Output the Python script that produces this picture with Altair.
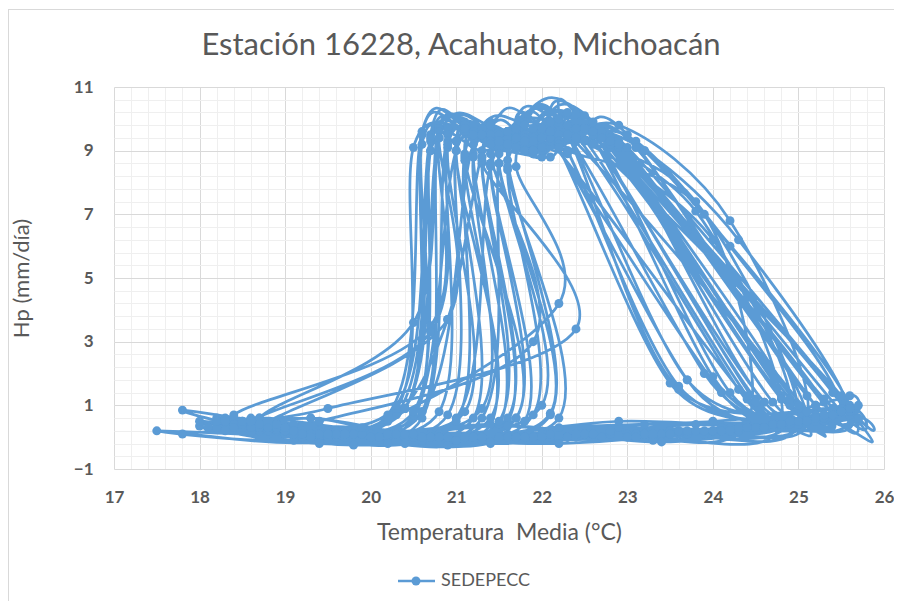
import altair as alt
import pandas as pd

series_name = "SEDEPECC"
chart_title = "Estación 16228, Acahuato, Michoacán"
x_title = "Temperatura\u00a0 Media (°C)"
y_title = "Hp (mm/día)"

x_ticks = [17, 18, 19, 20, 21, 22, 23, 24, 25, 26]
y_ticks = [-1, 1, 3, 5, 7, 9, 11]

# Monthly mean temperature (°C), one row per year (Jan..Dec)
temp_media = [
    18.2, 19.8, 21.2, 23.0, 24.8, 25.3, 22.6, 21.9, 21.6, 21.0, 20.5, 19.0,
    18.7, 20.1, 21.8, 23.5, 25.1, 24.2, 22.9, 22.0, 21.4, 20.9, 20.2, 18.9,
    17.8, 19.5, 21.0, 22.8, 24.6, 25.6, 23.2, 22.3, 21.8, 21.2, 20.6, 18.6,
    19.0, 20.4, 22.0, 23.8, 25.3, 25.7, 22.7, 22.1, 21.5, 21.1, 21.4, 19.3,
    18.4, 19.9, 21.3, 23.3, 24.8, 24.0, 22.4, 21.6, 21.3, 20.8, 20.5, 18.7,
    19.4, 20.8, 22.4, 24.2, 25.5, 24.8, 22.8, 22.1, 21.9, 21.4, 21.0, 19.1,
    17.5, 19.2, 20.9, 22.6, 24.4, 23.9, 22.3, 21.5, 20.9, 20.7, 20.3, 18.1,
    18.9, 20.3, 21.9, 23.7, 25.2, 25.4, 22.5, 22.0, 21.5, 21.1, 21.7, 18.8,
    18.5, 20.0, 21.6, 23.4, 25.0, 23.6, 22.2, 21.8, 21.3, 20.7, 20.4, 18.6,
    19.2, 20.6, 22.2, 24.0, 25.4, 24.6, 22.4, 22.2, 21.7, 21.3, 22.4, 19.5,
    18.0, 19.6, 21.1, 23.1, 24.7, 25.0, 22.6, 21.9, 21.5, 20.9, 20.6, 18.9,
    19.6, 21.0, 22.7, 24.4, 25.6, 24.3, 23.2, 22.4, 22.0, 21.6, 21.9, 19.7,
    18.3, 19.7, 21.4, 23.2, 24.9, 24.4, 22.0, 21.4, 21.0, 20.6, 20.4, 18.4,
    19.1, 20.5, 22.1, 23.9, 25.3, 25.5, 22.6, 22.1, 21.6, 21.2, 21.5, 19.2,
    18.6, 20.2, 21.7, 23.5, 25.1, 23.7, 22.3, 21.7, 21.3, 20.8, 20.9, 18.7,
    19.5, 20.9, 22.5, 24.3, 25.6, 25.2, 22.9, 22.3, 21.9, 21.5, 22.0, 19.6,
    18.1, 19.4, 21.0, 22.9, 24.5, 23.7, 22.1, 21.6, 21.2, 20.5, 20.3, 18.2,
    18.8, 20.2, 21.9, 23.6, 25.2, 24.5, 22.5, 21.9, 21.5, 21.0, 21.2, 19.0,
    19.3, 20.7, 22.3, 24.1, 25.5, 23.6, 22.3, 22.0, 21.7, 21.4, 21.9, 19.4,
    18.4, 19.9, 21.5, 23.3, 24.9, 25.1, 22.2, 21.6, 21.1, 20.7, 20.5, 18.6,
    19.0, 20.4, 22.0, 23.8, 25.4, 24.7, 22.8, 22.1, 21.8, 21.3, 21.6, 19.3,
    18.7, 20.1, 21.6, 23.4, 25.0, 23.8, 22.4, 21.8, 21.4, 20.9, 20.8, 18.9,
    19.7, 21.1, 22.8, 24.5, 25.7, 25.6, 23.0, 22.5, 22.0, 21.7, 22.2, 19.8,
    18.3, 19.8, 21.3, 23.2, 24.8, 24.1, 22.0, 21.6, 21.1, 20.6, 20.2, 17.8,
    18.9, 20.3, 21.8, 23.6, 25.2, 24.9, 22.7, 22.2, 21.7, 21.2, 21.3, 19.1,
    19.4, 20.6, 22.1, 24.0, 25.5, 24.2, 23.1, 22.4, 21.9, 21.4, 21.8, 19.5,
    18.2, 19.6, 21.2, 23.0, 24.6, 23.9, 22.2, 21.7, 21.2, 20.8, 20.7, 18.4,
    19.1, 20.5, 22.2, 24.1, 25.6, 25.3, 22.8, 22.2, 21.8, 21.3, 21.6, 19.2,
    18.6, 20.0, 21.5, 23.3, 24.9, 24.4, 22.4, 21.8, 21.4, 20.9, 21.1, 18.7,
    19.3, 20.8, 22.5, 24.3, 25.6, 24.6, 22.9, 22.3, 21.9, 21.5, 22.1, 19.6,
    18.5, 19.9, 21.4, 23.2, 24.7, 23.5, 22.1, 21.7, 21.2, 20.7, 20.4, 18.5,
    19.0, 20.4, 22.0, 23.7, 25.3, 25.0, 22.6, 22.0, 21.6, 21.0, 21.4, 18.8,
    18.4, 19.7, 21.3, 23.1, 24.9, 24.0, 22.5, 21.9, 21.4, 20.8, 20.6, 18.9,
    19.2, 20.7, 22.3, 24.0, 25.5, 25.4, 22.9, 22.3, 21.8, 21.5, 21.3, 19.4,
    18.0, 19.5, 21.1, 22.9, 24.7, 24.3, 22.3, 21.5, 21.1, 20.7, 20.3, 18.3,
    19.5, 20.9, 22.6, 24.4, 25.7, 25.1, 23.0, 22.4, 21.9, 21.6, 22.1, 19.7,
    18.6, 20.1, 21.7, 23.5, 25.0, 23.7, 22.2, 21.7, 21.3, 20.9, 20.7, 18.6,
    19.0, 20.5, 22.1, 23.9, 25.4, 24.8, 22.7, 22.1, 21.6, 21.1, 21.0, 19.0,
    18.7, 20.0, 21.6, 23.4, 25.1, 24.5, 22.5, 21.8, 21.4, 20.8, 20.4, 18.5,
    19.4, 20.8, 22.4, 24.2, 25.6, 25.5, 22.9, 22.3, 21.9, 21.4, 21.7, 19.3,
    18.2, 19.6, 21.2, 23.1, 24.8, 23.8, 22.1, 21.6, 21.1, 20.6, 20.5, 18.3,
    19.1, 20.6, 22.3, 24.1, 25.5, 24.9, 22.8, 22.2, 21.7, 21.3, 21.5, 19.1,
    18.8, 20.2, 21.8, 23.6, 25.2, 24.2, 22.6, 22.0, 21.5, 21.0, 20.9, 18.9,
    19.3, 20.7, 22.5, 24.3, 25.6, 25.2, 23.1, 22.4, 22.0, 21.6, 22.2, 19.5,
]

# Hp (mm/día), matching rows
hp = [
    0.30, 0.10, 0.00, 0.10, 0.40, 1.10, 9.60, 9.20, 9.40, 9.00, 0.60, 0.30,
    0.20, 0.00, 0.10, 0.20, 0.60, 6.80, 9.80, 9.00, 9.70, 3.70, 0.50, 0.20,
    0.85, 0.20, -0.10, 0.10, 0.30, 1.00, 9.00, 9.50, 9.90, 9.20, 0.80, 0.60,
    0.10, -0.20, 0.05, 0.40, 0.50, 0.50, 9.40, 8.80, 9.00, 8.70, 0.40, 0.60,
    0.40, 0.10, -0.10, 0.00, 0.30, 1.90, 10.20, 9.60, 9.50, 9.70, 3.60, 0.60,
    0.00, 0.10, 0.00, 0.30, 0.80, 1.30, 9.10, 9.30, 8.90, 8.50, 0.60, -0.10,
    0.20, 0.00, -0.25, 0.10, 0.40, 7.00, 9.00, 9.60, 9.70, 9.00, 0.70, 0.30,
    0.30, 0.10, 0.00, 0.10, 0.70, 1.40, 10.10, 9.40, 9.20, 8.80, 0.60, 0.10,
    0.50, 0.00, 0.10, 0.10, 0.40, 1.60, 9.50, 9.20, 9.00, 9.00, 0.90, 0.40,
    0.10, -0.15, 0.30, 0.50, 0.90, 1.10, 10.15, 9.30, 9.10, 8.60, 3.40, 0.90,
    0.35, 0.10, 0.00, 0.00, 0.30, 0.90, 9.90, 9.50, 9.40, 9.50, 0.60, 0.25,
    0.00, -0.10, 0.00, 0.30, 0.70, 6.20, 9.00, 9.70, 8.80, 8.40, 0.70, 0.00,
    0.50, 0.20, -0.20, 0.10, 0.50, 1.20, 9.60, 9.90, 9.30, 9.20, 0.90, 0.50,
    0.20, 0.00, 0.10, 0.10, 0.60, 1.30, 9.20, 9.50, 9.60, 8.90, 0.40, 0.15,
    0.15, 0.00, 0.00, 0.20, 0.50, 6.50, 10.20, 9.10, 9.70, 9.70, 3.70, 0.30,
    0.10, 0.00, 0.10, 0.30, 0.80, 1.00, 9.30, 8.90, 9.20, 8.60, 1.00, 0.20,
    0.30, -0.20, -0.10, 0.30, 0.30, 1.80, 9.40, 9.30, 9.60, 9.10, 0.90, 0.30,
    0.20, 0.10, 0.00, 0.10, 0.70, 1.20, 9.70, 9.40, 9.10, 9.30, 0.60, 0.30,
    0.00, 0.10, 0.00, 0.20, 0.90, 1.50, 9.50, 9.00, 9.40, 8.90, 3.00, 0.50,
    0.40, 0.10, 0.40, -0.10, 0.40, 0.80, 9.80, 9.60, 9.90, 9.50, 0.70, 0.50,
    0.10, 0.00, 0.10, 0.20, 0.60, 1.10, 9.20, 9.60, 9.00, 8.70, 0.50, 0.60,
    0.30, 0.00, 0.00, 0.10, 0.50, 7.40, 9.40, 9.80, 9.50, 9.30, 0.80, 0.30,
    0.10, 0.00, 0.20, 0.30, 0.60, 0.90, 9.10, 9.30, 9.60, 8.50, 4.20, 0.10,
    0.20, -0.25, 0.00, 0.40, 0.40, 1.40, 9.70, 9.40, 9.80, 9.60, 0.70, 0.10,
    0.30, 0.10, 0.00, 0.20, 0.50, 1.00, 9.60, 9.20, 9.10, 8.80, 0.90, 0.40,
    0.10, -0.10, 0.00, 0.20, 0.80, 6.00, 9.30, 9.50, 9.30, 8.60, 0.50, 0.00,
    0.60, 0.10, 0.00, 0.00, 0.30, 2.00, 9.90, 9.60, 9.40, 9.40, 3.50, 0.70,
    0.10, 0.00, -0.20, 0.30, 1.30, 1.20, 9.40, 9.10, 9.00, 8.80, 0.60, 0.20,
    0.40, 0.10, 0.00, 0.10, 0.60, 1.30, 9.70, 9.50, 9.30, 9.10, 0.80, 0.60,
    0.00, 0.00, 0.10, 0.20, 0.90, 1.10, 9.10, 9.40, 9.00, 8.60, 0.75, 0.20,
    0.30, 0.30, -0.15, 0.10, 0.40, 1.70, 9.60, 9.70, 9.50, 9.30, 0.90, 0.40,
    0.20, 0.10, 0.00, 0.20, 0.70, 1.00, 9.50, 9.20, 9.10, 9.00, 0.60, 0.30,
    0.30, 0.10, 0.00, 0.10, 0.50, 6.20, 9.30, 9.70, 9.20, 9.60, 0.80, 0.40,
    0.10, 0.00, 0.00, 0.20, 0.80, 0.70, 9.20, 9.00, 9.40, 8.90, 0.60, 0.20,
    0.50, -0.10, 0.00, 0.50, 0.40, 1.50, 9.80, 9.50, 9.60, 9.40, 1.00, 0.60,
    0.00, 0.00, 0.10, 0.30, 1.00, 1.30, 9.50, 9.30, 8.90, 8.70, 0.70, 0.10,
    0.30, 0.00, 0.00, 0.10, 0.50, 1.80, 10.00, 9.40, 9.50, 9.20, 3.30, 0.50,
    0.20, 0.10, 0.10, 0.20, 0.70, 1.20, 9.40, 9.60, 9.20, 8.90, 0.50, 0.30,
    0.40, 0.00, 0.35, -0.15, 0.50, 1.10, 9.70, 9.30, 9.80, 9.40, 0.90, 0.50,
    0.10, 0.00, 0.10, 0.20, 0.90, 0.80, 9.20, 9.50, 9.00, 8.60, 0.60, 0.10,
    0.50, 0.10, 0.00, 0.00, 0.40, 7.10, 9.90, 9.60, 9.70, 9.50, 0.80, 0.50,
    0.10, 0.00, 0.00, 0.20, 0.80, 1.20, 9.30, 9.10, 9.40, 8.80, 0.50, 0.20,
    0.30, -0.20, 0.00, 0.20, 0.60, 1.40, 9.60, 9.40, 9.30, 9.30, 0.70, 0.40,
    0.00, 0.00, 0.10, 0.30, 0.90, 1.00, 9.10, 9.40, 9.10, 8.50, 0.60, 0.10,
]

df = pd.DataFrame({"idx": list(range(len(hp))), "T": temp_media, "Hp": hp})

BLUE = "#5B9BD5"
GRAY = "#595959"
FONT = "Lato"

xs = alt.Scale(domain=[17, 26], nice=False, zero=False)
ys = alt.Scale(domain=[-1, 11], nice=False, zero=False)

minor_x = [round(17 + 0.2 * i, 2) for i in range(46)]
minor_y = [round(-1 + 0.4 * i, 2) for i in range(31)]

minor = alt.Chart(df).mark_point(opacity=0).encode(
    x=alt.X("T:Q", scale=xs, axis=alt.Axis(values=minor_x, grid=True, gridColor="#efefef",
                                           gridWidth=1, labels=False, ticks=False, domain=False,
                                           title=None, orient="top")),
    y=alt.Y("Hp:Q", scale=ys, axis=alt.Axis(values=minor_y, grid=True, gridColor="#efefef",
                                            gridWidth=1, labels=False, ticks=False, domain=False,
                                            title=None, orient="right")),
)

lines = alt.Chart(df).mark_line(color=BLUE, strokeWidth=2.75, interpolate="cardinal", tension=0).encode(
    x=alt.X("T:Q", scale=xs, axis=alt.Axis(values=x_ticks, grid=True, gridColor="#d9d9d9", gridWidth=1,
                                           domain=False, ticks=False, labelFont=FONT, labelFontSize=17,
                                           labelFontWeight="bold", labelColor=GRAY, labelPadding=20,
                                           labelFlush=False, title=x_title, titleFont=FONT,
                                           titleFontSize=23, titleFontWeight="normal", titleColor=GRAY,
                                           titlePadding=16, orient="bottom")),
    y=alt.Y("Hp:Q", scale=ys, axis=alt.Axis(values=y_ticks, grid=True, gridColor="#d9d9d9", gridWidth=1,
                                            domain=False, ticks=False, labelFont=FONT, labelFontSize=17,
                                            labelFontWeight="bold", labelColor=GRAY, labelPadding=21,
                                            labelFlush=False, title=y_title, titleFont=FONT,
                                            titleFontSize=22, titleFontWeight="normal", titleColor=GRAY,
                                            titlePadding=40, orient="left")),
    order=alt.Order("idx:Q"),
)

points = alt.Chart(df).mark_point(filled=True, size=80, opacity=1, color=BLUE).encode(
    x=alt.X("T:Q", scale=xs, axis=None),
    y=alt.Y("Hp:Q", scale=ys, axis=None),
)

lab = pd.DataFrame({"label": [series_name]})
ttl = pd.DataFrame({"label": [chart_title]})

title_mark = alt.Chart(ttl).mark_text(font=FONT, fontSize=31, color=GRAY, align="center",
                                      baseline="middle").encode(
    x=alt.value(347), y=alt.value(-41), text="label:N")

leg_rule = alt.Chart(lab).mark_rule(color=BLUE, strokeWidth=2.5).encode(
    x=alt.value(284), x2=alt.value(321), y=alt.value(494))
leg_pt = alt.Chart(lab).mark_point(filled=True, size=80, opacity=1, color=BLUE).encode(
    x=alt.value(302), y=alt.value(494))
leg_txt = alt.Chart(lab).mark_text(font=FONT, fontSize=18, color=GRAY, align="left",
                                   baseline="middle").encode(
    x=alt.value(327), y=alt.value(494), text="label:N")

border_top = alt.Chart(lab).mark_rule(color="#d9d9d9", strokeWidth=1).encode(
    x=alt.value(-106), x2=alt.value(790), y=alt.value(-77.5))
border_left = alt.Chart(lab).mark_rule(color="#d9d9d9", strokeWidth=1).encode(
    x=alt.value(-105.5), y=alt.value(-78), y2=alt.value(520))

chart = alt.layer(
    minor, lines, points, title_mark, leg_rule, leg_pt, leg_txt, border_top, border_left
).resolve_axis(x="independent", y="independent").properties(
    width=770, height=382,
    autosize=alt.AutoSizeParams(type="none"),
    padding={"left": 106, "top": 79, "right": 10, "bottom": 132},
).configure_view(strokeWidth=0)

chart.save("out.html", embed_options={"renderer": "svg", "actions": False})
